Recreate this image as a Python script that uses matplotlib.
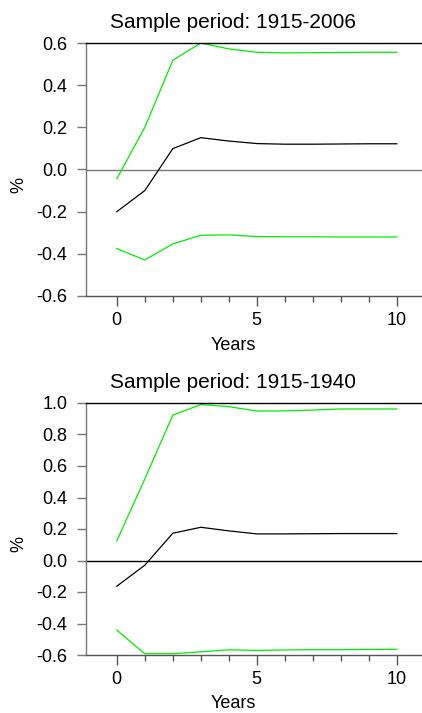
import numpy as np
import matplotlib.pyplot as plt
from matplotlib.ticker import FixedLocator

plt.rcParams['font.family'] = ['Liberation Sans', 'DejaVu Sans']

years = np.arange(11)

# Sample period 1915-2006
resp_a = [-0.20, -0.10, 0.099, 0.151, 0.135, 0.123, 0.120, 0.120, 0.121, 0.122, 0.122]
upper_a = [-0.044, 0.20, 0.518, 0.60, 0.572, 0.556, 0.553, 0.554, 0.555, 0.556, 0.556]
lower_a = [-0.375, -0.429, -0.353, -0.312, -0.310, -0.318, -0.319, -0.319, -0.320, -0.320, -0.320]

# Sample period 1915-1940
resp_b = [-0.163, -0.03, 0.173, 0.211, 0.188, 0.169, 0.169, 0.170, 0.171, 0.171, 0.171]
upper_b = [0.125, 0.518, 0.923, 0.990, 0.977, 0.949, 0.950, 0.955, 0.962, 0.962, 0.962]
lower_b = [-0.442, -0.592, -0.592, -0.580, -0.567, -0.571, -0.568, -0.566, -0.566, -0.565, -0.564]

panels = [
    ("Sample period: 1915-2006", resp_a, upper_a, lower_a, (-0.6, 0.6), '#777777'),
    ("Sample period: 1915-1940", resp_b, upper_b, lower_b, (-0.6, 1.0), 'black'),
]

W, H = 422, 713
fig = plt.figure(figsize=(W / 100, H / 100), dpi=100)

# axes boxes in pixels: left, top, bottom
boxes = [(86, 43, 296), (86, 403, 655)]

for (title, resp, up, lo, ylim, zcol), (l, t, b) in zip(panels, boxes):
    ax = fig.add_axes([l / W, 1 - b / H, (W - l) / W, (b - t) / H])
    ax.set_xlim(-1.1, 10.9)
    ax.set_ylim(*ylim)

    ax.axhline(0, color=zcol, lw=1.0, clip_on=False)
    ax.plot(years, up, color='#00ee00', lw=0.9)
    ax.plot(years, lo, color='#00ee00', lw=0.9)
    ax.plot(years, resp, color='black', lw=0.9)

    ax.spines['right'].set_visible(False)
    ax.spines['left'].set_color('#777777')
    ax.spines['top'].set_color('black')
    ax.spines['bottom'].set_color('#555555')
    for s in ax.spines.values():
        s.set_linewidth(1.0)

    yt = np.arange(ylim[0], ylim[1] + 0.01, 0.2)
    ax.set_yticks(yt)
    ax.set_yticklabels([f"{v:.1f}" for v in yt])
    ax.set_xticks([0, 5, 10])
    ax.xaxis.set_minor_locator(FixedLocator([1, 2, 3, 4, 6, 7, 8, 9]))
    ax.tick_params(axis='y', direction='out', length=6.5, width=1.0, color='#777777',
                   labelsize=13, pad=7)
    ax.tick_params(axis='x', which='major', direction='out', length=7.5, width=1.0,
                   color='#555555', labelsize=13, pad=4)
    ax.tick_params(axis='x', which='minor', direction='out', length=4, width=1.0,
                   color='#555555')
    # top tick continues the black frame line
    ax.yaxis.get_major_ticks()[-1].tick1line.set_color('black')
    if zcol == 'black':
        ax.yaxis.get_major_ticks()[3].tick1line.set_color('black')

    ax.text(0.4375, 1 + 20 / (b - t), title, transform=ax.transAxes,
            ha='center', va='center', fontsize=15)
    ax.text(0.4375, -49 / (b - t), "Years", transform=ax.transAxes,
            ha='center', va='center', fontsize=13)
    ax.text(-67 / (W - l), 0.44, "%", transform=ax.transAxes,
            ha='center', va='center', fontsize=13, rotation=90)

fig.savefig("out.png", dpi=100)
